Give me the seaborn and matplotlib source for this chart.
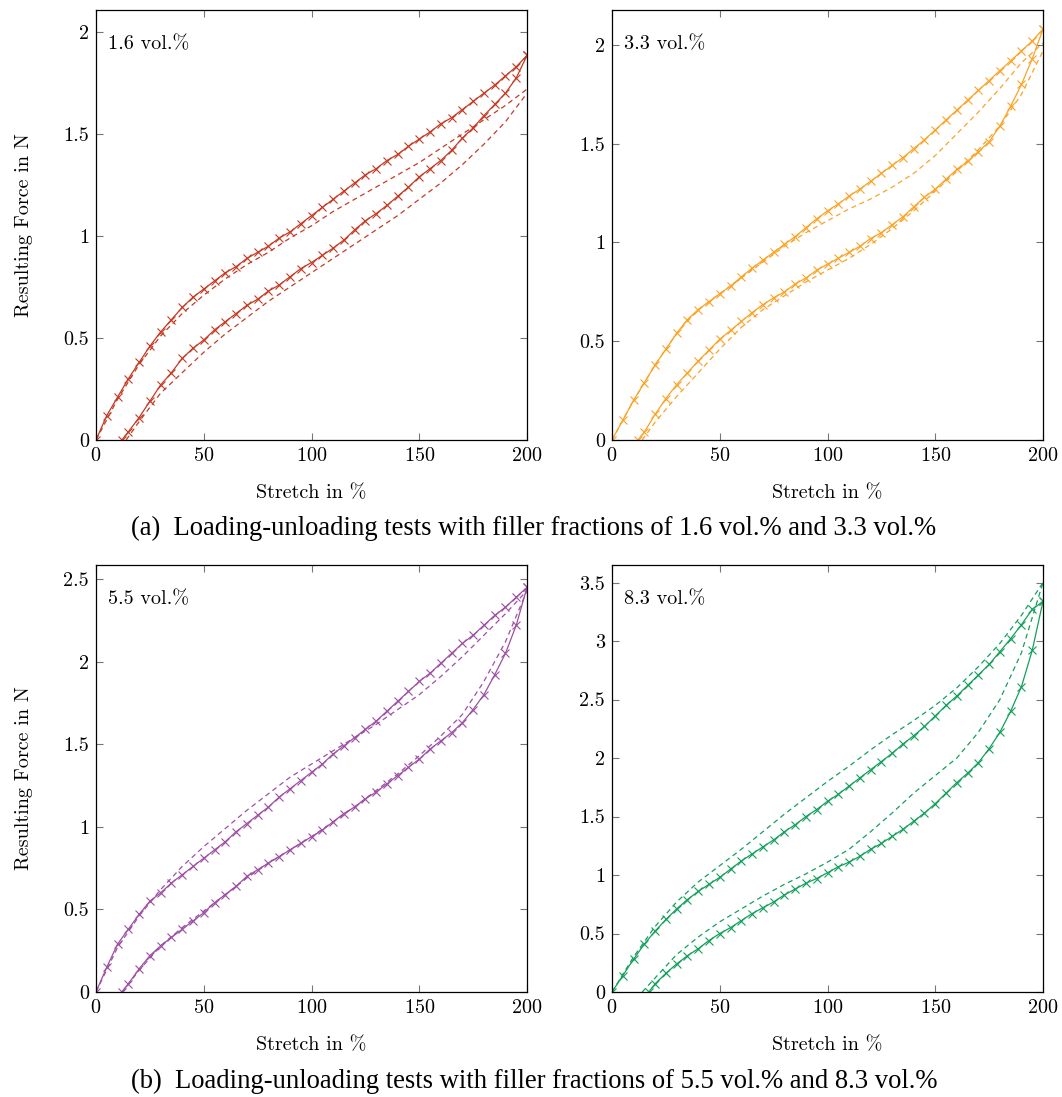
import numpy as np
import pandas as pd
import seaborn as sns
import matplotlib
matplotlib.use("Agg")
import matplotlib.pyplot as plt
from matplotlib.ticker import StrMethodFormatter

# ---------------- data ----------------
x_load = list(range(0, 201, 5))

# 1.6 vol.%
red_load = [0, 0.12, 0.21, 0.30, 0.38, 0.46, 0.53, 0.59, 0.65, 0.70, 0.74, 0.78, 0.82, 0.85,
            0.89, 0.92, 0.95, 0.99, 1.02, 1.06, 1.10, 1.14, 1.18, 1.22, 1.26, 1.30, 1.33, 1.37,
            1.40, 1.44, 1.475, 1.51, 1.55, 1.58, 1.62, 1.66, 1.70, 1.74, 1.785, 1.83, 1.885]
red_unl_x = [12] + list(range(15, 201, 5))
red_unl = [0, 0.04, 0.11, 0.19, 0.27, 0.33, 0.40, 0.45, 0.49, 0.54, 0.58, 0.62, 0.66, 0.69,
           0.73, 0.76, 0.80, 0.84, 0.87, 0.905, 0.94, 0.98, 1.03, 1.075, 1.11, 1.15, 1.195,
           1.24, 1.29, 1.33, 1.37, 1.42, 1.48, 1.53, 1.59, 1.645, 1.70, 1.775, 1.885]
mod_x = list(range(0, 201, 10))
red_mload = [0, 0.20, 0.37, 0.51, 0.62, 0.71, 0.79, 0.86, 0.92, 0.99, 1.05, 1.12, 1.18, 1.24,
             1.30, 1.36, 1.43, 1.50, 1.57, 1.64, 1.72]
red_munl_x = [14] + list(range(20, 201, 10))
red_munl = [0, 0.09, 0.23, 0.33, 0.43, 0.52, 0.60, 0.68, 0.75, 0.82, 0.89, 0.96, 1.03, 1.10,
            1.18, 1.26, 1.35, 1.45, 1.56, 1.70]

# 3.3 vol.%
ora_load = [0, 0.10, 0.20, 0.29, 0.38, 0.46, 0.54, 0.61, 0.66, 0.70, 0.74, 0.78, 0.825, 0.87,
            0.91, 0.95, 0.99, 1.03, 1.075, 1.12, 1.16, 1.195, 1.235, 1.27, 1.31, 1.35, 1.39,
            1.43, 1.475, 1.52, 1.57, 1.62, 1.67, 1.72, 1.77, 1.82, 1.87, 1.92, 1.97, 2.02, 2.08]
ora_unl_x = [12] + list(range(15, 201, 5))
ora_unl = [0, 0.04, 0.13, 0.21, 0.28, 0.34, 0.40, 0.455, 0.51, 0.555, 0.60, 0.645, 0.685, 0.72,
           0.75, 0.79, 0.82, 0.86, 0.89, 0.92, 0.95, 0.98, 1.02, 1.05, 1.09, 1.13, 1.18, 1.23,
           1.27, 1.32, 1.37, 1.41, 1.46, 1.51, 1.59, 1.69, 1.80, 1.93, 2.08]
ora_mload = [0, 0.20, 0.38, 0.54, 0.66, 0.74, 0.82, 0.90, 0.98, 1.05, 1.11, 1.17, 1.22, 1.28,
             1.35, 1.44, 1.55, 1.66, 1.78, 1.91, 2.01]
ora_munl_x = [14] + list(range(20, 201, 10))
ora_munl = [0, 0.09, 0.22, 0.34, 0.46, 0.57, 0.66, 0.73, 0.80, 0.86, 0.92, 0.99, 1.07, 1.16,
            1.26, 1.36, 1.47, 1.59, 1.75, 1.97]

# 5.5 vol.%
pur_load = [0, 0.15, 0.29, 0.38, 0.47, 0.55, 0.60, 0.66, 0.71, 0.76, 0.81, 0.86, 0.91, 0.97,
            1.02, 1.07, 1.12, 1.18, 1.23, 1.28, 1.33, 1.38, 1.44, 1.49, 1.54, 1.59, 1.64, 1.70,
            1.76, 1.82, 1.88, 1.93, 1.99, 2.05, 2.11, 2.16, 2.22, 2.28, 2.33, 2.39, 2.45]
pur_unl_x = [12] + list(range(15, 201, 5))
pur_unl = [0, 0.05, 0.14, 0.22, 0.28, 0.33, 0.38, 0.43, 0.48, 0.54, 0.59, 0.64, 0.70, 0.74,
           0.78, 0.82, 0.86, 0.90, 0.94, 0.98, 1.03, 1.08, 1.12, 1.17, 1.21, 1.26, 1.31, 1.36,
           1.41, 1.47, 1.52, 1.57, 1.63, 1.71, 1.80, 1.92, 2.05, 2.22, 2.45]
pur_mload = [0, 0.27, 0.46, 0.62, 0.76, 0.88, 0.99, 1.10, 1.20, 1.30, 1.38, 1.46, 1.54, 1.62,
             1.71, 1.80, 1.91, 2.03, 2.16, 2.29, 2.43]
pur_munl_x = [12] + list(range(20, 201, 10))
pur_munl = [0, 0.13, 0.28, 0.39, 0.49, 0.59, 0.69, 0.78, 0.86, 0.94, 1.03, 1.12, 1.22, 1.32,
            1.43, 1.55, 1.68, 1.88, 2.12, 2.43]

# 8.3 vol.%
gre_load = [0, 0.14, 0.28, 0.41, 0.52, 0.62, 0.71, 0.79, 0.86, 0.92, 0.98, 1.05, 1.12, 1.18,
            1.24, 1.30, 1.37, 1.43, 1.50, 1.56, 1.63, 1.69, 1.76, 1.83, 1.90, 1.97, 2.04, 2.12,
            2.19, 2.27, 2.36, 2.45, 2.53, 2.62, 2.71, 2.80, 2.91, 3.02, 3.14, 3.27, 3.34]
gre_unl_x = [17] + list(range(20, 201, 5))
gre_unl = [0, 0.07, 0.16, 0.24, 0.31, 0.37, 0.44, 0.50, 0.55, 0.61, 0.67, 0.72, 0.77, 0.83,
           0.88, 0.93, 0.97, 1.02, 1.07, 1.11, 1.16, 1.22, 1.27, 1.33, 1.39, 1.46, 1.53, 1.61,
           1.70, 1.79, 1.87, 1.96, 2.08, 2.22, 2.40, 2.61, 2.92, 3.34]
gre_mload = [0, 0.30, 0.56, 0.77, 0.94, 1.08, 1.22, 1.37, 1.52, 1.66, 1.80, 1.93, 2.07, 2.20,
             2.32, 2.45, 2.60, 2.78, 2.98, 3.22, 3.50]
gre_munl_x = [14] + list(range(20, 201, 10))
gre_munl = [0, 0.12, 0.32, 0.47, 0.60, 0.71, 0.82, 0.92, 1.01, 1.11, 1.22, 1.37, 1.53, 1.70,
            1.85, 2.00, 2.22, 2.50, 2.90, 3.50]

panels = [
    ("1.6 vol.%", "#C43A24", red_load, red_unl_x, red_unl, red_mload, red_munl_x, red_munl, 2.108, [0, 0.5, 1, 1.5, 2]),
    ("3.3 vol.%", "#F9A427", ora_load, ora_unl_x, ora_unl, ora_mload, ora_munl_x, ora_munl, 2.177, [0, 0.5, 1, 1.5, 2]),
    ("5.5 vol.%", "#9E4FA5", pur_load, pur_unl_x, pur_unl, pur_mload, pur_munl_x, pur_munl, 2.585, [0, 0.5, 1, 1.5, 2, 2.5]),
    ("8.3 vol.%", "#13A05B", gre_load, gre_unl_x, gre_unl, gre_mload, gre_munl_x, gre_munl, 3.65, [0, 0.5, 1, 1.5, 2, 2.5, 3, 3.5]),
]
captions = ["(a)  Loading-unloading tests with filler fractions of 1.6 vol.% and 3.3 vol.%",
            "(b)  Loading-unloading tests with filler fractions of 5.5 vol.% and 8.3 vol.%"]

# ---------------- styling ----------------
sns.set_theme(style="ticks")
plt.rcParams["font.family"] = ["cmr10", "DejaVu Serif"]
plt.rcParams["axes.formatter.use_mathtext"] = True
plt.rcParams["mathtext.fontset"] = "cm"

W, H = 1062, 1097
fig = plt.figure(figsize=(W / 100, H / 100), dpi=100)

boxes = [(96, 10, 527, 440), (612, 10, 1043, 440), (96, 565, 527, 992), (612, 565, 1043, 992)]


def draw(ax, xs, ys, col, measured):
    n_before = len(ax.lines)
    sns.lineplot(x=xs, y=ys, ax=ax, color=col, estimator=None, sort=False, legend=False)
    ln = ax.lines[n_before]
    ln.set_linewidth(0.9)
    if measured:
        ln.set_linestyle("-")
        ln.set_marker("x")
        ln.set_markersize(5.5)
        ln.set_markeredgewidth(0.8)
        ln.set_markeredgecolor(col)
    else:
        ln.set_marker("None")
        ln.set_linestyle((0, (4, 3)))


for i, (lab, col, ld, ux, ud, mld, mux, mud, ytop, yticks) in enumerate(panels):
    x0, y0, x1, y1 = boxes[i]
    ax = fig.add_axes([x0 / W, 1 - y1 / H, (x1 - x0) / W, (y1 - y0) / H])
    draw(ax, mod_x, mld, col, False)
    draw(ax, mux, mud, col, False)
    draw(ax, x_load, ld, col, True)
    draw(ax, ux, ud, col, True)

    ax.set_xlim(0, 200)
    ax.set_ylim(0, ytop)
    ax.set_xticks([0, 50, 100, 150, 200])
    ax.set_yticks(yticks)
    ax.yaxis.set_major_formatter(StrMethodFormatter("{x:g}"))
    ax.tick_params(direction="in", length=5, width=0.8, color="#777777",
                   top=True, right=True, labelsize=14.5, pad=5, labelcolor="black")
    for s in ax.spines.values():
        s.set_linewidth(0.9)
        s.set_color("black")
    ax.set_xlabel("Stretch in %", fontsize=14.5, labelpad=14, color="black")
    if i % 2 == 0:
        ax.set_ylabel("Resulting Force in N", fontsize=14.5, labelpad=22, color="black")
    else:
        ax.set_ylabel("")
    ax.text(0.028, 0.92, lab, transform=ax.transAxes, fontsize=14.5, va="center",
            ha="left", color="black")

for cap, yy in zip(captions, [528, 1081]):
    fig.text(534 / W, 1 - yy / H, cap, ha="center", va="center", color="black",
             fontsize=19.2, family=["Liberation Serif", "DejaVu Serif"])

fig.savefig("out.png", dpi=100, facecolor="white")
